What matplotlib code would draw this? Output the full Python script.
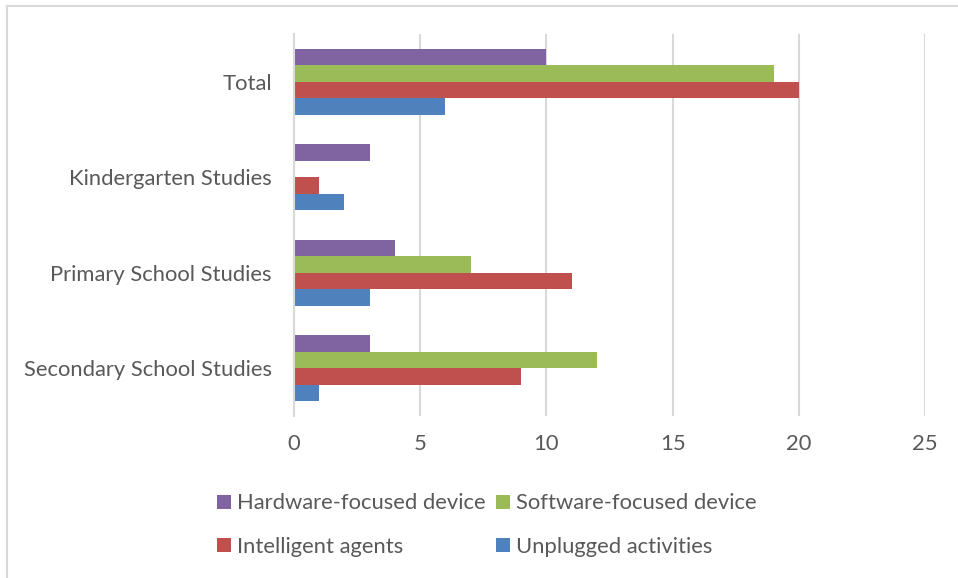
import matplotlib
matplotlib.use("Agg")
import matplotlib.pyplot as plt
from matplotlib.patches import Patch
from matplotlib.lines import Line2D
import numpy as np

categories = ["Total", "Kindergarten Studies", "Primary School Studies", "Secondary School Studies"]
series_names = ["Hardware-focused device", "Software-focused device", "Intelligent agents", "Unplugged activities"]
hardware = [10, 3, 4, 3]
software = [19, 0, 7, 12]
intelligent = [20, 1, 11, 9]
unplugged = [6, 2, 3, 1]
xticks = [0, 5, 10, 15, 20, 25]

colors = ["#8064A2", "#9BBB59", "#C0504D", "#4F81BD"]
text_color = "#595959"
grid_color = "#D9D9D9"

plt.rcParams['font.family'] = ['Lato', 'DejaVu Sans']
FS = 15.8

W, H = 958, 578
fig = plt.figure(figsize=(W / 100, H / 100), dpi=100)
left, right, top, bottom = 294, 925, 34, 416
ax = fig.add_axes([left / W, 1 - bottom / H, (right - left) / W, (bottom - top) / H])

y = np.arange(len(categories))
bh = 0.69 / 4
data = [hardware, software, intelligent, unplugged]
for i, (vals, c, name) in enumerate(zip(data, colors, series_names)):
    offset = (i - 1.5) * bh
    ax.barh(y + offset, vals, height=bh, color=c, label=name, zorder=3)

ax.set_ylim(len(categories) - 0.5, -0.5)
ax.set_xlim(0, 25)
ax.set_xticks(xticks)
ax.set_xticklabels([str(t) for t in xticks])
ax.set_yticks(y)
ax.set_yticklabels(categories)
ax.tick_params(axis='both', length=0, labelsize=FS, colors=text_color)
ax.tick_params(axis='x', pad=13)
ax.tick_params(axis='y', pad=16)
ax.xaxis.grid(True, color=grid_color, linewidth=1.5, zorder=0)
for s in ["top", "right", "bottom"]:
    ax.spines[s].set_visible(False)
ax.spines["left"].set_color(grid_color)
ax.spines["left"].set_linewidth(1.5)
ax.spines["left"].set_zorder(4)

# legend: row-wise order -> reorder for column fill
handles = [Patch(facecolor=c, edgecolor='none') for c in colors]
order = [0, 2, 1, 3]
leg = fig.legend([handles[i] for i in order], [series_names[i] for i in order],
                 ncol=2, loc="center", bbox_to_anchor=(0.508, 1 - 525 / H),
                 frameon=False, fontsize=FS, labelcolor=text_color,
                 handlelength=0.64, handleheight=0.64, handletextpad=0.27,
                 columnspacing=0.5, labelspacing=1.05)

# chart border (left and top)
fig.add_artist(Line2D([6.5 / W, 6.5 / W], [0, 1 - 5.5 / H], color=grid_color, linewidth=1.5,
                      transform=fig.transFigure))
fig.add_artist(Line2D([6.5 / W, 1], [1 - 5.5 / H, 1 - 5.5 / H], color=grid_color, linewidth=1.5,
                      transform=fig.transFigure))

fig.savefig("out.png", dpi=100, facecolor="white")
